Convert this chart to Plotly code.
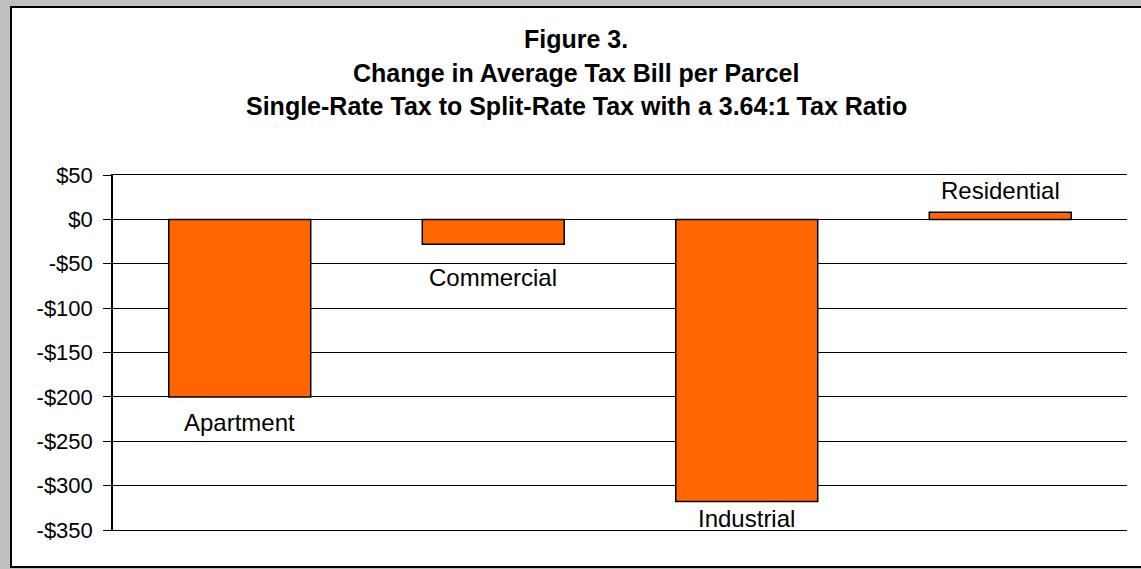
import plotly.graph_objects as go

# ---- data ----
categories = ["Apartment", "Commercial", "Industrial", "Residential"]
change_values = [-200, -28, -318, 8]
tick_values = [50, 0, -50, -100, -150, -200, -250, -300, -350]
tick_labels = ["$50", "$0", "-$50", "-$100", "-$150", "-$200", "-$250", "-$300", "-$350"]
title_lines = ["Figure 3.",
               "Change in Average Tax Bill per Parcel",
               "Single-Rate Tax to Split-Rate Tax with a 3.64:1 Tax Ratio"]

# label offsets (pixels) from bar end, matching the hand-placed labels
label_offsets = [-10, -18, -1, 6]

W, H = 1141, 569
L, R, T, B = 113, 14, 175, 39
pw, ph = W - L - R, H - T - B

def px_x(px):
    return (px - L) / pw

def px_y(py):
    return (H - B - py) / ph

fig = go.Figure()
fig.add_trace(go.Bar(
    x=categories, y=change_values,
    marker=dict(color="#FF6600", line=dict(color="black", width=1.5)),
    width=0.56, hoverinfo="x+y",
))

annotations = []
for cat, v, off in zip(categories, change_values, label_offsets):
    annotations.append(dict(
        x=cat, y=v, xref="x", yref="y", text=cat, showarrow=False,
        yanchor="top" if v < 0 else "bottom", yshift=off,
        font=dict(family="Liberation Sans, Arial, sans-serif", size=24, color="black"),
    ))

title_centers = [39, 73, 106]
for line, cy in zip(title_lines, title_centers):
    annotations.append(dict(
        x=px_x(576), y=px_y(cy), xref="paper", yref="paper",
        text="<b>" + line + "</b>", showarrow=False,
        xanchor="center", yanchor="middle",
        font=dict(family="Liberation Sans, Arial, sans-serif", size=25, color="black"),
    ))

fig.update_layout(
    width=W, height=H,
    margin=dict(l=L, r=R, t=T, b=B, pad=0),
    paper_bgcolor="#C0C0C0",
    plot_bgcolor="rgba(0,0,0,0)",
    showlegend=False,
    annotations=annotations,
    shapes=[dict(
        type="rect", xref="paper", yref="paper", layer="below",
        x0=px_x(11), x1=px_x(1160), y0=px_y(567), y1=px_y(7),
        fillcolor="white", line=dict(color="black", width=2),
    )],
    xaxis=dict(showticklabels=False, showgrid=False, zeroline=False,
               showline=True, mirror=True, linecolor="black", linewidth=1,
               ticks="", fixedrange=True),
    yaxis=dict(range=[-350, 50], tickvals=tick_values, ticktext=tick_labels,
               showgrid=True, gridcolor="black", gridwidth=1,
               zeroline=True, zerolinecolor="black", zerolinewidth=1,
               showline=True, linecolor="black", linewidth=1.5,
               ticks="outside", ticklen=8, tickcolor="black", tickwidth=1,
               ticklabelstandoff=6,
               tickfont=dict(family="Liberation Sans, Arial, sans-serif", size=22, color="black")),
    bargap=0.44,
)

fig.write_html("out.html")
